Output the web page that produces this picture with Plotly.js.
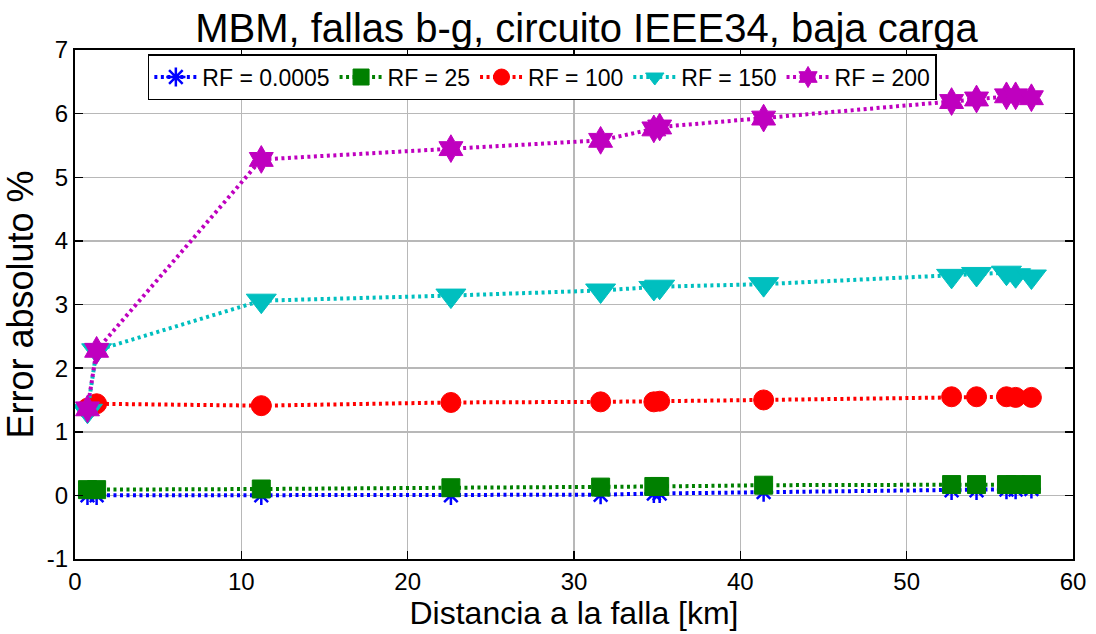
<!DOCTYPE html>
<html>
<head>
<meta charset="utf-8">
<script src="https://cdn.plot.ly/plotly-3.0.1.min.js"></script>
<style>html,body{margin:0;padding:0;background:#fff;}#chart{width:1096px;height:634px;}</style>
</head>
<body>
<div id="chart"></div>
<script>
const distKm = [0.75, 1.3, 11.2, 22.6, 31.6, 34.8, 35.15, 41.4, 52.7, 54.2, 56.0, 56.55, 57.5];
const rf0005 = [0.0, 0.0, 0.0, 0.0, 0.01, 0.03, 0.03, 0.05, 0.08, 0.08, 0.09, 0.09, 0.1];
const rf25   = [0.09, 0.09, 0.1, 0.12, 0.13, 0.14, 0.14, 0.16, 0.17, 0.17, 0.17, 0.17, 0.17];
const rf100  = [1.37, 1.44, 1.41, 1.46, 1.47, 1.47, 1.48, 1.5, 1.55, 1.55, 1.55, 1.54, 1.54];
const rf150  = [1.33, 2.28, 3.06, 3.14, 3.22, 3.26, 3.28, 3.32, 3.45, 3.48, 3.5, 3.46, 3.44];
const rf200  = [1.36, 2.28, 5.28, 5.45, 5.58, 5.76, 5.79, 5.93, 6.19, 6.23, 6.28, 6.28, 6.25];
const seriesNames = ['RF = 0.0005', 'RF = 25', 'RF = 100', 'RF = 150', 'RF = 200'];
const xTicks = [0, 10, 20, 30, 40, 50, 60];
const yTicks = [-1, 0, 1, 2, 3, 4, 5, 6, 7];

const FONT = 'Liberation Sans, Arial, sans-serif';
function mk(y, name, color, symbol, size, lw) {
  return {
    x: distKm, y: y, name: name, type: 'scatter', mode: 'lines+markers',
    line: {color: color, width: 4, dash: '3px,3.5px'},
    marker: {symbol: symbol, size: size, color: color, line: {color: color, width: lw || 1}}
  };
}
const data = [
  mk(rf0005, seriesNames[0], '#0000FF', 'asterisk-open', 16, 2.5),
  mk(rf25, seriesNames[1], '#008000', 'square', 18),
  mk(rf100, seriesNames[2], '#FF0000', 'circle', 20),
  mk(rf150, seriesNames[3], '#00BFBF', 'triangle-down', 26),
  mk(rf200, seriesNames[4], '#BF00BF', 'hexagram', 21)
];
const axisCommon = {
  showline: true, linecolor: '#000', linewidth: 2, mirror: 'ticks',
  ticks: 'inside', ticklen: 8, tickwidth: 1.5, tickcolor: '#000',
  showgrid: true, gridcolor: '#b8b8b8', gridwidth: 1.5, zeroline: false,
  tickfont: {family: FONT, size: 24, color: '#000'}
};
const layout = {
  width: 1096, height: 634,
  margin: {l: 75, r: 23, t: 50, b: 75},
  paper_bgcolor: '#fff', plot_bgcolor: '#fff',
  title: {text: 'MBM, fallas b-g, circuito IEEE34, baja carga', font: {family: FONT, size: 40, color: '#000'},
          xref: 'paper', x: 0.5125, xanchor: 'center', yref: 'paper', y: 1, yanchor: 'bottom', pad: {b: 8}},
  xaxis: Object.assign({}, axisCommon, {range: [0, 60], tickvals: xTicks, ticktext: xTicks.map(String),
    title: {text: 'Distancia a la falla [km]', font: {family: FONT, size: 32, color: '#000'}, standoff: 4}},
  ),
  yaxis: Object.assign({}, axisCommon, {range: [-1, 7], tickvals: yTicks, ticktext: yTicks.map(String),
    title: {text: 'Error absoluto %', font: {family: FONT, size: 36, color: '#000'}, standoff: 2}}),
  showlegend: true,
  legend: {orientation: 'h', x: 0.073, xanchor: 'left', y: 0.992, yanchor: 'top',
    bgcolor: '#fff', bordercolor: '#000', borderwidth: 1.5,
    font: {family: FONT, size: 23, color: '#000'}, itemwidth: 43, tracegroupgap: 0}
};
Plotly.newPlot('chart', data, layout, {displayModeBar: false, staticPlot: true});
</script>
</body>
</html>
